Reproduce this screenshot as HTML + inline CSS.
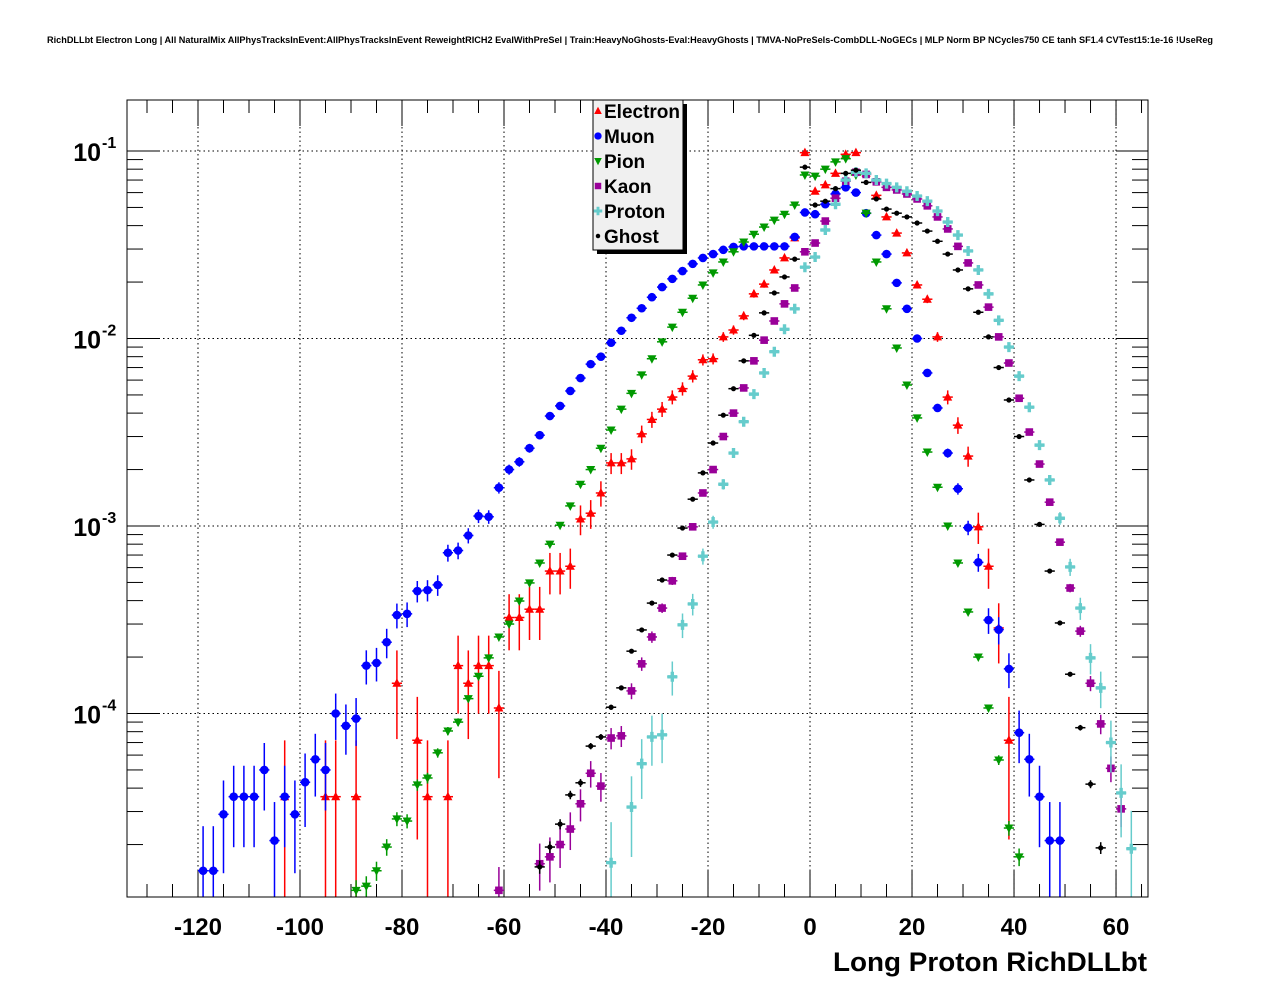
<!DOCTYPE html>
<html><head><meta charset="utf-8"><style>
html,body{margin:0;padding:0;background:#fff;overflow:hidden;width:1276px;height:996px;}
svg{display:block;font-family:"Liberation Sans",Arial,sans-serif;}
</style></head><body>
<svg id="chart" width="1276" height="996" viewBox="0 0 1276 996">
<defs><clipPath id="plotclip"><rect x="127" y="100" width="1021" height="797"/></clipPath></defs>
<rect x="0" y="0" width="1276" height="996" fill="#fff"/>
<text x="630" y="43" font-size="9" font-weight="bold" text-anchor="middle" textLength="1166" lengthAdjust="spacingAndGlyphs">RichDLLbt Electron Long | All NaturalMix AllPhysTracksInEvent:AllPhysTracksInEvent ReweightRICH2 EvalWithPreSel | Train:HeavyNoGhosts-Eval:HeavyGhosts | TMVA-NoPreSels-CombDLL-NoGECs | MLP Norm BP NCycles750 CE tanh SF1.4 CVTest15:1e-16 !UseReg</text>
<g id="grid"></g>
<g id="axes"></g>
<g id="marks" clip-path="url(#plotclip)"></g>
<rect x="127" y="100" width="1021" height="797" fill="none" stroke="#000" stroke-width="1"/>
<g id="legend"></g>
<text x="1147" y="971" font-size="27" font-weight="bold" text-anchor="end" textLength="314" lengthAdjust="spacingAndGlyphs">Long Proton RichDLLbt</text>
</svg>
<script>
const xTicks = [-120,-100,-80,-60,-40,-20,0,20,40,60];
const yDecades = [-1,-2,-3,-4];
const seriesNames = ["Electron","Muon","Pion","Kaon","Proton","Ghost"];

const muonX = [-119,-117,-115,-113,-111,-109,-107,-105,-103,-101,-99,-97,-95,-93,-91,-89,-87,-85,-83,-81,-79,-77,-75,-73,-71,-69,-67,-65,-63,-61,-59,-57,-55,-53,-51,-49,-47,-45,-43,-41,-39,-37,-35,-33,-31,-29,-27,-25,-23,-21,-19,-17,-15,-13,-11,-9,-7,-5,-3,-1,1,3,5,7,9,11,13,15,17,19,21,23,25,27,29,31,33,35,37,39,41,43,45,47,49];
const muonY = [1.45e-5,1.45e-5,2.9e-5,3.6e-5,3.6e-5,3.6e-5,5.0e-5,2.1e-5,3.6e-5,2.9e-5,4.3e-5,5.7e-5,5.0e-5,1.0e-4,8.6e-5,9.4e-5,1.8e-4,1.86e-4,2.4e-4,3.35e-4,3.4e-4,4.5e-4,4.55e-4,4.85e-4,7.2e-4,7.4e-4,8.9e-4,1.13e-3,1.12e-3,1.6e-3,2.0e-3,2.2e-3,2.6e-3,3.05e-3,3.86e-3,4.37e-3,5.25e-3,6.15e-3,7.3e-3,8.0e-3,9.5e-3,1.1e-2,1.29e-2,1.45e-2,1.66e-2,1.88e-2,2.08e-2,2.29e-2,2.5e-2,2.69e-2,2.82e-2,2.97e-2,3.08e-2,3.1e-2,3.1e-2,3.1e-2,3.1e-2,3.1e-2,3.48e-2,4.7e-2,4.6e-2,5.2e-2,5.9e-2,6.4e-2,6.0e-2,4.66e-2,3.56e-2,2.82e-2,1.98e-2,1.44e-2,1.0e-2,6.55e-3,4.26e-3,2.45e-3,1.58e-3,9.8e-4,6.4e-4,3.15e-4,2.8e-4,1.73e-4,7.9e-5,5.7e-5,3.6e-5,2.1e-5,2.1e-5];

const electronX = [-103,-95,-93,-89,-81,-77,-75,-71,-69,-67,-65,-63,-61,-59,-57,-55,-53,-51,-49,-47,-45,-43,-41,-39,-37,-35,-33,-31,-29,-27,-25,-23,-21,-19,-17,-15,-13,-11,-9,-7,-5,-3,-1,1,3,5,7,9,11,13,15,17,19,21,23,25,27,29,31,33,35,37,39];
const electronY = [3.6e-5,3.6e-5,3.6e-5,3.6e-5,1.45e-4,7.2e-5,3.6e-5,3.6e-5,1.8e-4,1.45e-4,1.8e-4,1.8e-4,1.07e-4,3.25e-4,3.25e-4,3.6e-4,3.6e-4,5.75e-4,5.75e-4,6.1e-4,1.09e-3,1.17e-3,1.5e-3,2.17e-3,2.17e-3,2.28e-3,3.1e-3,3.7e-3,4.2e-3,4.87e-3,5.4e-3,6.3e-3,7.7e-3,7.8e-3,1.02e-2,1.11e-2,1.32e-2,1.73e-2,1.95e-2,2.32e-2,2.69e-2,3.44e-2,9.8e-2,6.1e-2,6.6e-2,7.6e-2,9.6e-2,9.8e-2,7.6e-2,5.8e-2,4.45e-2,3.65e-2,2.86e-2,1.93e-2,1.62e-2,1.02e-2,4.87e-3,3.45e-3,2.36e-3,9.9e-4,6.1e-4,2.86e-4,7.2e-5];

const pionX = [-89,-87,-85,-83,-81,-79,-77,-75,-73,-71,-69,-67,-65,-63,-61,-59,-57,-55,-53,-51,-49,-47,-45,-43,-41,-39,-37,-35,-33,-31,-29,-27,-25,-23,-21,-19,-17,-15,-13,-11,-9,-7,-5,-3,-1,1,3,5,7,9,11,13,15,17,19,21,23,25,27,29,31,33,35,37,39,41];
const pionY = [1.14e-5,1.2e-5,1.45e-5,1.94e-5,2.74e-5,2.67e-5,4.16e-5,4.53e-5,6.17e-5,8.07e-5,9.0e-5,1.2e-4,1.58e-4,1.98e-4,2.56e-4,3.0e-4,3.98e-4,4.97e-4,6.35e-4,8.0e-4,1.01e-3,1.28e-3,1.67e-3,2.0e-3,2.6e-3,3.25e-3,4.2e-3,5.1e-3,6.4e-3,7.8e-3,9.6e-3,1.15e-2,1.38e-2,1.64e-2,1.93e-2,2.24e-2,2.56e-2,2.9e-2,3.27e-2,3.6e-2,3.93e-2,4.28e-2,4.6e-2,5.15e-2,7.45e-2,7.35e-2,8.0e-2,8.75e-2,9.1e-2,7.45e-2,4.66e-2,2.56e-2,1.44e-2,8.9e-3,5.65e-3,3.77e-3,2.48e-3,1.61e-3,1.0e-3,6.35e-4,3.48e-4,2.0e-4,1.07e-4,5.65e-5,2.45e-5,1.72e-5];

const kaonX = [-61,-53,-51,-49,-47,-45,-43,-41,-39,-37,-35,-33,-31,-29,-27,-25,-23,-21,-19,-17,-15,-13,-11,-9,-7,-5,-3,-1,1,3,5,7,9,11,13,15,17,19,21,23,25,27,29,31,33,35,37,39,41,43,45,47,49,51,53,55,57,59,61];
const kaonY = [1.14e-5,1.58e-5,1.72e-5,2.0e-5,2.42e-5,3.3e-5,4.8e-5,4.1e-5,7.4e-5,7.6e-5,1.32e-4,1.84e-4,2.56e-4,3.65e-4,5.1e-4,6.9e-4,9.9e-4,1.5e-3,2.0e-3,3.0e-3,4.0e-3,5.45e-3,7.6e-3,9.8e-3,1.24e-2,1.53e-2,1.86e-2,2.9e-2,3.23e-2,4.23e-2,5.6e-2,6.9e-2,7.7e-2,7.5e-2,6.85e-2,6.4e-2,6.2e-2,5.9e-2,5.55e-2,5.1e-2,4.45e-2,3.84e-2,3.1e-2,2.53e-2,1.93e-2,1.47e-2,1.02e-2,7.4e-3,4.8e-3,3.17e-3,2.14e-3,1.34e-3,8.2e-4,4.67e-4,2.75e-4,1.45e-4,8.8e-5,5.1e-5,3.1e-5];

const protonX = [-39,-35,-33,-31,-29,-27,-25,-23,-21,-19,-17,-15,-13,-11,-9,-7,-5,-3,-1,1,3,5,7,9,11,13,15,17,19,21,23,25,27,29,31,33,35,37,39,41,43,45,47,49,51,53,55,57,59,61,63];
const protonY = [1.6e-5,3.17e-5,5.4e-5,7.5e-5,7.7e-5,1.57e-4,2.97e-4,3.84e-4,6.9e-4,1.05e-3,1.67e-3,2.45e-3,3.6e-3,5.05e-3,6.55e-3,8.5e-3,1.12e-2,1.44e-2,2.4e-2,2.72e-2,3.79e-2,5.2e-2,7.0e-2,7.7e-2,7.6e-2,7.0e-2,6.7e-2,6.4e-2,6.1e-2,5.75e-2,5.4e-2,4.78e-2,4.18e-2,3.56e-2,2.93e-2,2.32e-2,1.73e-2,1.25e-2,9.0e-3,6.3e-3,4.3e-3,2.7e-3,1.76e-3,1.1e-3,6.05e-4,3.65e-4,1.98e-4,1.37e-4,7.0e-5,3.77e-5,1.9e-5];

const ghostX = [-53,-51,-49,-47,-45,-43,-41,-39,-37,-35,-33,-31,-29,-27,-25,-23,-21,-19,-17,-15,-13,-11,-9,-7,-5,-3,-1,1,3,5,7,9,11,13,15,17,19,21,23,25,27,29,31,33,35,37,39,41,43,45,47,49,51,53,55,57];
const ghostY = [1.52e-5,1.94e-5,2.57e-5,3.68e-5,4.27e-5,6.7e-5,7.5e-5,1.08e-4,1.37e-4,2.15e-4,2.79e-4,3.88e-4,5.15e-4,7.0e-4,9.75e-4,1.39e-3,1.92e-3,2.77e-3,3.9e-3,5.4e-3,7.6e-3,1.04e-2,1.37e-2,1.75e-2,2.13e-2,2.65e-2,8.2e-2,5.15e-2,5.4e-2,6.3e-2,7.6e-2,7.9e-2,6.8e-2,5.55e-2,4.9e-2,4.66e-2,4.45e-2,4.13e-2,3.74e-2,3.3e-2,2.82e-2,2.32e-2,1.84e-2,1.38e-2,1.02e-2,7.0e-3,4.7e-3,3.0e-3,1.76e-3,1.02e-3,5.75e-4,3.04e-4,1.62e-4,8.4e-5,4.2e-5,1.92e-5];

const NS="http://www.w3.org/2000/svg";
const X0=127,X1=1148,Y0=100,Y1=897;
const xMin=-133.92, xMax=66.27;
const logTop=-1+(151-100)/187.5, logBot=-1-(897-151)/187.5;
function xs(v){return X0+(v-xMin)/(xMax-xMin)*(X1-X0);}
function ys(v){const l=Math.log10(Math.max(v,1e-9));return Y0+(logTop-l)/(logTop-logBot)*(Y1-Y0);}
function mk(tag,attrs,parent){const e=document.createElementNS(NS,tag);for(const k in attrs)e.setAttribute(k,attrs[k]);parent.appendChild(e);return e;}

const grid=document.getElementById('grid');
const axes=document.getElementById('axes');
xTicks.forEach(t=>{
  const g=mk('line',{x1:xs(t),x2:xs(t),y1:Y0,y2:Y1,stroke:'#000','stroke-width':1,'stroke-dasharray':'1.5,3'},grid);
  
  
});
yDecades.forEach(d=>{
  const g=mk('line',{x1:X0,x2:X1,y1:ys(Math.pow(10,d)),y2:ys(Math.pow(10,d)),stroke:'#000','stroke-width':1,'stroke-dasharray':'1.5,3'},grid);
  
  
});
for(let v=-130;v<=65;v+=5){
  const major=(v%20===0);
  const px=xs(v);
  const len=major?26:13;
  const t1=mk('line',{x1:px,x2:px,y1:Y1,y2:Y1-len,stroke:'#000','stroke-width':1},axes);
  
  
  const t2=mk('line',{x1:px,x2:px,y1:Y0,y2:Y0+len,stroke:'#000','stroke-width':1},axes);
  
  
}
xTicks.forEach(t=>{
  const tx=mk('text',{x:xs(t),y:935,'font-size':24,'font-weight':'bold','text-anchor':'middle'},axes);
  tx.textContent=String(t);
  
  
});
for(let d=-5;d<=-1;d++){
  for(let m=1;m<=9;m++){
    const v=m*Math.pow(10,d);
    const py=ys(v);
    if(py<Y0||py>Y1)continue;
    const len=(m===1)?32:16;
    const t1=mk('line',{x1:X0,x2:X0+len,y1:py,y2:py,stroke:'#000','stroke-width':1},axes);
    
    
    const t2=mk('line',{x1:X1,x2:X1-len,y1:py,y2:py,stroke:'#000','stroke-width':1},axes);
    
    
  }
}
yDecades.forEach(d=>{
  const py=ys(Math.pow(10,d));
  const tx=mk('text',{x:101,y:py+10,'font-size':25,'font-weight':'bold','text-anchor':'end'},axes);
  tx.textContent='10';
  
  
  const sp=mk('text',{x:102,y:py-3,'font-size':16,'font-weight':'bold','text-anchor':'start'},axes);
  sp.textContent=String(d);
  
  
});

const marks=document.getElementById('marks');
function marker(g,type,color,cx,cy,scale){
  const s=scale||1;let e;
  if(type==='tri-up'){e=mk('polygon',{points:`${cx},${cy-5*s} ${cx-4.5*s},${cy+3.5*s} ${cx+4.5*s},${cy+3.5*s}`,fill:color},g);}
  else if(type==='tri-down'){e=mk('polygon',{points:`${cx},${cy+5*s} ${cx-4.5*s},${cy-3.5*s} ${cx+4.5*s},${cy-3.5*s}`,fill:color},g);}
  else if(type==='circle'){e=mk('circle',{cx:cx,cy:cy,r:4.3*s,fill:color},g);}
  else if(type==='square'){e=mk('rect',{x:cx-3.8*s,y:cy-3.8*s,width:7.6*s,height:7.6*s,fill:color},g);}
  else if(type==='cross'){e=mk('path',{d:`M${cx-5*s},${cy-1.7*s}h${3.3*s}v${-3.3*s}h${3.4*s}v${3.3*s}h${3.3*s}v${3.4*s}h${-3.3*s}v${3.3*s}h${-3.4*s}v${-3.3*s}h${-3.3*s}z`,fill:color},g);}
  else {e=mk('circle',{cx:cx,cy:cy,r:2.6*s,fill:color},g);}
  return e;
}
const series=[
  {name:'Electron',xs:electronX,ys:electronY,color:'#ff0000',type:'tri-up',K:2.8e4},
  {name:'Muon',xs:muonX,ys:muonY,color:'#0000ff',type:'circle',K:1.3e5},
  {name:'Pion',xs:pionX,ys:pionY,color:'#009900',type:'tri-down',K:5e6},
  {name:'Kaon',xs:kaonX,ys:kaonY,color:'#990099',type:'square',K:8e5},
  {name:'Proton',xs:protonX,ys:protonY,color:'#66cccc',type:'cross',K:1.5e5},
  {name:'Ghost',xs:ghostX,ys:ghostY,color:'#000000',type:'dot',K:1e7}
];
series.forEach(s=>{
  const g=mk('g',{},marks);
  
  
  s.xs.forEach((xv,i)=>{
    const v=s.ys[i];
    const cx=xs(xv), cy=ys(v);
    const err=Math.sqrt(v/s.K);
    const yTop=ys(v+err);
    const yBot=(v-err)>0?Math.min(ys(v-err),Y1):Y1;
    const eb=mk('line',{x1:cx,x2:cx,y1:yTop,y2:yBot,stroke:s.color,'stroke-width':1.5},g);
    
    
    const hb=mk('line',{x1:xs(xv-1),x2:xs(xv+1),y1:cy,y2:cy,stroke:s.color,'stroke-width':1.5},g);
    
    
    const m=marker(g,s.type,s.color,cx,cy);
    
    
  });
});

const lg=document.getElementById('legend');
const sh=mk('rect',{x:597,y:104,width:90,height:150,fill:'#000'},lg);


const box=mk('rect',{x:593,y:100,width:90,height:150,fill:'#f0f0f0',stroke:'#000','stroke-width':1},lg);


series.forEach((s,i)=>{
  const y=111+i*25;
  const m=marker(lg,s.type,s.color,598,y,0.85);
  
  
  const t=mk('text',{x:604,y:y+7,'font-size':19,'font-weight':'bold'},lg);
  t.textContent=seriesNames[i];
  
  
});
</script>
</body></html>
